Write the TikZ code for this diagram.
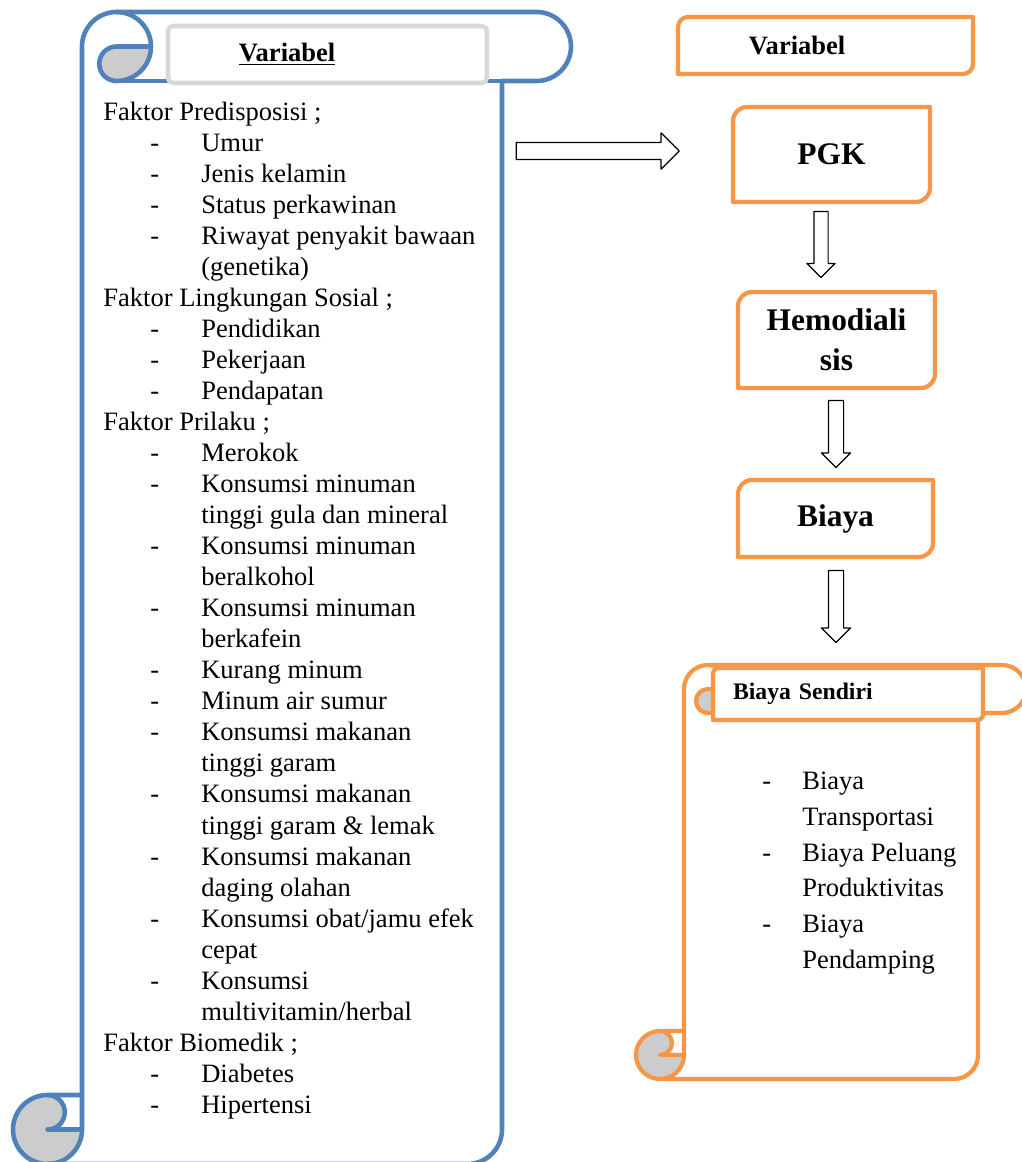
\documentclass[tikz,border=0pt]{standalone}
\usepackage{fontspec}
\setmainfont{Liberation Serif}
\usepackage{xcolor}
\definecolor{scrollBlue}{RGB}{79,129,189}
\definecolor{scrollOrange}{RGB}{247,150,70}
\definecolor{curlGray}{RGB}{204,204,204}
\definecolor{titleGray}{RGB}{217,217,217}
\usepackage{tikz}
\usetikzlibrary{shapes.arrows,positioning,calc}
\tikzstyle{blueline}=[draw=scrollBlue, line width=2.6pt]
\tikzstyle{orangeline}=[draw=scrollOrange, line width=2.4pt]
\tikzstyle{titlebox}=[rectangle, draw=titleGray, line width=2.6pt, fill=white, rounded corners=3pt, outer sep=0pt, inner ysep=0pt, minimum height=1.14cm, font=\fontsize{15.1}{18}\selectfont\bfseries]
\tikzstyle{orangebox}=[rectangle, fill=white, outer sep=0pt, inner sep=0pt, font=\fontsize{17.9}{22.8}\selectfont\bfseries, align=center]
\tikzstyle{listtext}=[inner sep=0pt, align=left, font=\fontsize{15.1}{17.65}\selectfont]
\tikzstyle{blockarrow}=[single arrow, draw=black, line width=0.7pt, fill=white, inner xsep=0pt, single arrow head indent=0pt, minimum width=0pt]

% kertas gulung (vertical scroll): kiri, atas, kanan, bawah, tebal gulungan, garis
\newcommand{\drawscroll}[6]{%
  \pgfmathsetmacro\scH{#5/2}\pgfmathsetmacro\scQ{#5/4}%
  \pgfmathsetmacro\scXa{#1+#5/2}\pgfmathsetmacro\scXb{#1+#5}%
  \pgfmathsetmacro\scXc{#1+1.5*#5}\pgfmathsetmacro\scXd{#1+2*#5}%
  \pgfmathsetmacro\scXe{#3-#5}\pgfmathsetmacro\scXf{#3-#5/2}%
  \pgfmathsetmacro\scYa{#2+#5/2}\pgfmathsetmacro\scYb{#2+#5}%
  \pgfmathsetmacro\scYc{#4-#5}\pgfmathsetmacro\scYd{#4-#5/2}%
  \fill[white] (\scXb,\scYc) -- (\scXb,\scYa) arc[start angle=180, delta angle=90, radius=\scH]
    -- (\scXf,#2) arc[start angle=270, delta angle=180, radius=\scH] -- (\scXe,\scYb)
    -- (\scXe,\scYd) arc[start angle=0, delta angle=90, radius=\scH]
    -- (\scXa,#4) arc[start angle=90, delta angle=180, radius=\scH] -- cycle;
  \fill[curlGray] (\scXd,\scYa) arc[start angle=0, delta angle=90, radius=\scH]
    arc[start angle=90, delta angle=180, radius=\scQ] -- cycle;
  \fill[curlGray] (\scXb,\scYd) arc[start angle=0, delta angle=270, radius=\scH]
    arc[start angle=270, delta angle=180, radius=\scQ] -- cycle;
  \draw[#6] (\scXb,\scYc) -- (\scXb,\scYa) arc[start angle=180, delta angle=90, radius=\scH]
    -- (\scXf,#2) arc[start angle=270, delta angle=180, radius=\scH] -- (\scXe,\scYb)
    -- (\scXe,\scYd) arc[start angle=0, delta angle=90, radius=\scH]
    -- (\scXa,#4) arc[start angle=90, delta angle=180, radius=\scH] -- cycle;
  \draw[#6] (\scXc,#2) arc[start angle=270, delta angle=180, radius=\scH]
    arc[start angle=90, delta angle=180, radius=\scQ] -- (\scXd,\scYa);
  \draw[#6] (\scXf,\scYb) -- (\scXc,\scYb);
  \draw[#6] (\scXa,\scYc) arc[start angle=270, delta angle=180, radius=\scQ] -- (\scXb,\scYd);
  \draw[#6] (\scXa,#4) arc[start angle=90, delta angle=-90, radius=\scH] -- (\scXb,\scYc);
}
% bingkai oranye, sudut kiri atas dan kanan bawah membulat
\newcommand{\diagframe}[2]{%
  \draw[orangeline] ($(#1.north west)+(#2,0)$) -- (#1.north east)
    -- ($(#1.south east)+(0,-#2)$) arc[start angle=0, delta angle=90, radius=#2]
    -- (#1.south west) -- ($(#1.north west)+(0,#2)$)
    arc[start angle=180, delta angle=90, radius=#2] -- cycle;
}
\newcommand{\butir}[1]{\hspace*{0.94cm}\makebox[1.02cm][l]{-}#1}
\newcommand{\lanjut}[1]{\hspace*{1.96cm}#1}
\newcommand{\butirKanan}[1]{\makebox[0.8cm][l]{-}#1}
\newcommand{\lanjutKanan}[1]{\hspace*{0.8cm}#1}

\begin{document}
\begin{tikzpicture}[x=0.02cm, y=-0.02cm, line join=round]
    \useasboundingbox (0,0) rectangle (1021,1162);

    % --- gulungan kiri ---
    \drawscroll{13}{12}{571}{1164}{69}{blueline}
    \node[titlebox, anchor=north west, inner xsep=1.42cm, text width=3.54cm, align=left]
         (judulKiri) at (168,26) {\underline{Variabel}};
    \node[listtext, anchor=north west] (faktor) at (103,102) {%
      Faktor Predisposisi ;\\
      \butir{Umur}\\
      \butir{Jenis kelamin}\\
      \butir{Status perkawinan}\\
      \butir{Riwayat penyakit bawaan}\\
      \lanjut{(genetika)}\\
      Faktor Lingkungan Sosial ;\\
      \butir{Pendidikan}\\
      \butir{Pekerjaan}\\
      \butir{Pendapatan}\\
      Faktor Prilaku ;\\
      \butir{Merokok}\\
      \butir{Konsumsi minuman}\\
      \lanjut{tinggi gula dan mineral}\\
      \butir{Konsumsi minuman}\\
      \lanjut{beralkohol}\\
      \butir{Konsumsi minuman}\\
      \lanjut{berkafein}\\
      \butir{Kurang minum}\\
      \butir{Minum air sumur}\\
      \butir{Konsumsi makanan}\\
      \lanjut{tinggi garam}\\
      \butir{Konsumsi makanan}\\
      \lanjut{tinggi garam \& lemak}\\
      \butir{Konsumsi makanan}\\
      \lanjut{daging olahan}\\
      \butir{Konsumsi obat/jamu efek}\\
      \lanjut{cepat}\\
      \butir{Konsumsi}\\
      \lanjut{multivitamin/herbal}\\
      Faktor Biomedik ;\\
      \butir{Diabetes}\\
      \butir{Hipertensi}};

    % --- kolom kanan ---
    \node[orangebox, anchor=north west, minimum width=5.9cm, minimum height=1.14cm,
          inner xsep=1.42cm, text width=3.06cm, align=left, font=\fontsize{15.1}{18}\selectfont\bfseries]
         (judulKanan) at (678,17) {Variabel};
    \diagframe{judulKanan}{10}
    \node[orangebox, minimum width=3.94cm, minimum height=1.9cm] (pgk) at (831.5,154.5) {PGK};
    \diagframe{pgk}{14}
    \node[orangebox, minimum width=3.94cm, minimum height=1.92cm] (hemo) at (836.5,340) {Hemodiali\\sis};
    \diagframe{hemo}{14}
    \node[orangebox, minimum width=3.9cm, minimum height=1.54cm] (biaya) at (835.5,518.5) {Biaya};
    \diagframe{biaya}{14}

    % --- gulungan kanan ---
    \drawscroll{636}{665}{1026}{1079}{48}{orangeline}
    \node[orangebox, anchor=north west, minimum width=5.4cm, minimum height=1.04cm,
          inner xsep=0.4cm, text width=4.6cm, align=left, font=\fontsize{13.5}{16}\selectfont\bfseries]
         (sendiri) at (713,668) {Biaya Sendiri};
    \diagframe{sendiri}{5}
    \node[listtext, anchor=north west, font=\fontsize{15.1}{20.3}\selectfont] (rincian) at (762,772) {%
      \butirKanan{Biaya}\\
      \lanjutKanan{Transportasi}\\
      \butirKanan{Biaya Peluang}\\
      \lanjutKanan{Produktivitas}\\
      \butirKanan{Biaya}\\
      \lanjutKanan{Pendamping}};

    % --- panah blok ---
    \node[blockarrow, anchor=tip, inner ysep=0.16cm, single arrow head extend=0.19cm,
          minimum height=3.26cm] (panahA) at ($(pgk.west)+(-53,-3.5)$) {};
    \node[blockarrow, anchor=tail, rotate=-90, inner ysep=0.13cm, single arrow head extend=0.14cm,
          minimum height=1.32cm] (panahB) at ($(pgk.south)+(-10.5,9)$) {};
    \node[blockarrow, anchor=tail, rotate=-90, inner ysep=0.14cm, single arrow head extend=0.14cm,
          minimum height=1.34cm] (panahC) at ($(hemo.south)+(-0.5,12)$) {};
    \node[blockarrow, anchor=tail, rotate=-90, inner ysep=0.14cm, single arrow head extend=0.14cm,
          minimum height=1.44cm] (panahD) at ($(biaya.south)+(0.5,13)$) {};
\end{tikzpicture}
\end{document}
